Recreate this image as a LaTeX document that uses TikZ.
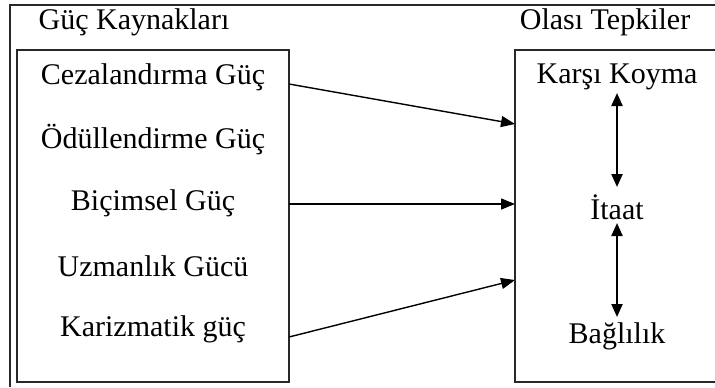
\documentclass[tikz,border=0pt]{standalone}
\usepackage{fontspec}
\setmainfont{Liberation Serif}
\usetikzlibrary{arrows.meta, positioning, calc}
\definecolor{frame}{RGB}{40,40,40}

\begin{document}
\begin{tikzpicture}[x=0.5pt, y=-0.5pt,
  label/.style={font=\fontsize{15}{18}\selectfont, inner sep=0pt},
  box/.style={frame, line width=0.9pt},
  link/.style={-{Triangle[length=7pt, width=5.5pt]}, line width=0.7pt},
  swap/.style={{Triangle[length=6.5pt, width=5.5pt]}-{Triangle[length=6.5pt, width=5.5pt]}, line width=1.1pt}]
  \useasboundingbox (0,0) rectangle (715,387);
  % outer frame (cut at right and bottom)
  \draw[box] (715,5) -- (10,5) -- (10,387);
  % left and right boxes
  \draw[box] (17,50) rectangle (289,382);
  \draw[box] (715,50) -- (515,50) -- (515,382) -- (715,382);
  % headings
  \node[label] (srchead) at (134,22) {Güç Kaynakları};
  \node[label] (reshead) at (605,22) {Olası Tepkiler};
  % power sources
  \node[label] (cez) at (153,77) {Cezalandırma Güç};
  \node[label] (odul) at (153,140) {Ödüllendirme Güç};
  \node[label] (bic) at (153,203) {Biçimsel Güç};
  \node[label] (uzm) at (153,266) {Uzmanlık Gücü};
  \node[label] (kar) at (153,329) {Karizmatik güç};
  % responses
  \node[label] (karsi) at (617,77) {Karşı Koyma};
  \node[label] (itaat) at (617,207) {İtaat};
  \node[label] (bag) at (617,336) {Bağlılık};
  % arrow ends on the box edges
  \coordinate (o1) at (289,84);
  \coordinate (o2) at (289,204);
  \coordinate (o3) at (289,337);
  \coordinate (i1) at (515,124);
  \coordinate (i2) at (515,204);
  \coordinate (i3) at (515,280);
  \draw[link] (o1) -- (i1);
  \draw[link] (o2) -- (i2);
  \draw[link] (o3) -- (i3);
  % vertical links
  \coordinate (k1) at (617,93);
  \coordinate (t1) at (617,187);
  \coordinate (t2) at (617,223);
  \coordinate (b1) at (617,317);
  \draw[swap] (k1) -- (t1);
  \draw[swap] (t2) -- (b1);
\end{tikzpicture}
\end{document}
